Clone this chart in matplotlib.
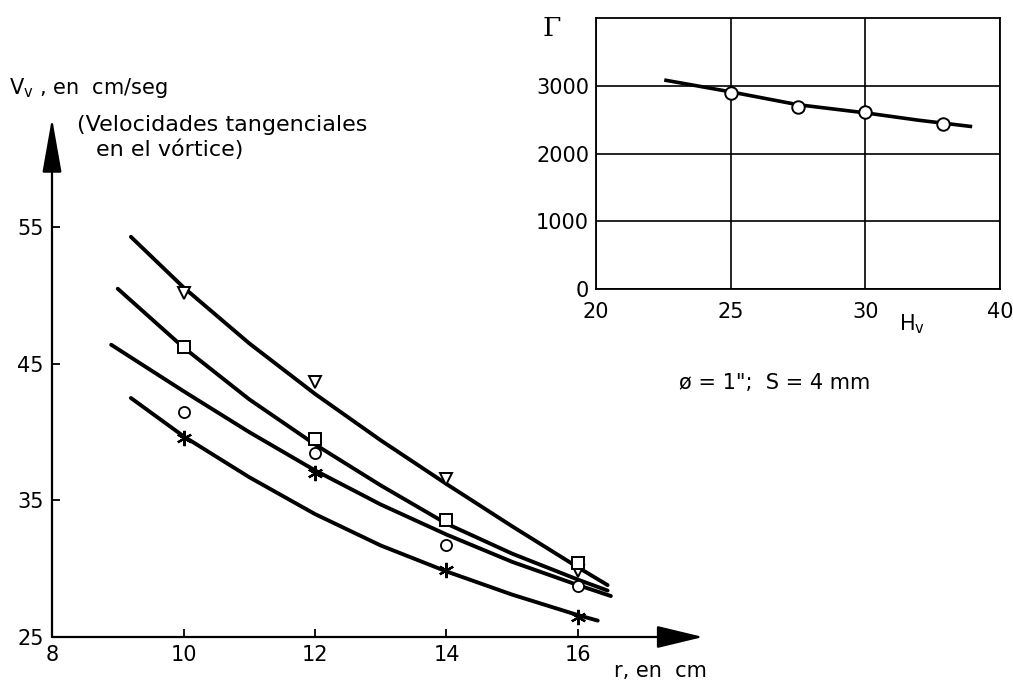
import matplotlib
matplotlib.use("Agg")
import matplotlib.pyplot as plt

plt.rcParams.update({
    "font.family": "DejaVu Sans",
    "font.size": 15,
    "mathtext.fontset": "dejavusans",
})

# ---- main chart: tangential velocity vs radius ----
r_pts = [10, 12, 14, 16]
v_tri = [50.2, 43.7, 36.6, 29.8]
v_sq = [46.2, 39.5, 33.6, 30.4]
v_circ = [41.5, 38.5, 31.7, 28.7]
v_star = [39.6, 37.0, 29.9, 26.5]

# hand-drawn curves
c1_r = [9.2, 10, 11, 12, 13, 14, 15, 16, 16.45]
c1_v = [54.3, 50.6, 46.5, 42.8, 39.4, 36.2, 33.1, 30.1, 28.8]
c2_r = [9.0, 10, 11, 12, 13, 14, 15, 16, 16.45]
c2_v = [50.5, 46.2, 42.4, 39.1, 36.1, 33.3, 31.1, 29.2, 28.4]
c3_r = [8.9, 10, 11, 12, 13, 14, 15, 16, 16.5]
c3_v = [46.4, 43.0, 40.0, 37.2, 34.7, 32.5, 30.5, 28.8, 28.0]
c4_r = [9.2, 10, 11, 12, 13, 14, 15, 16, 16.3]
c4_v = [42.5, 39.7, 36.7, 34.0, 31.7, 29.8, 28.1, 26.6, 26.2]

x_ticks = [8, 10, 12, 14, 16]
y_ticks = [25, 35, 45, 55]

# ---- inset: circulation vs H_v ----
h_pts = [25.0, 27.5, 30.0, 32.9]
g_pts = [2900, 2690, 2610, 2430]
h_line = [22.6, 25, 27.5, 30, 32, 33.9]
g_line = [3080, 2910, 2720, 2600, 2490, 2400]
h_ticks = [20, 25, 30, 35]
h_labels = ["20", "25", "30", "40"]
g_ticks = [0, 1000, 2000, 3000]

fig = plt.figure(figsize=(10.13, 6.88), dpi=100)
W, H = 1013, 688

ax = fig.add_axes([52 / W, 1 - 637 / H, 651 / W, 519 / H])
ax.set_xlim(8, 8 + 651 / 65.75)
ax.set_ylim(25, 63)
for s in ax.spines.values():
    s.set_visible(False)

# axis arrows
ax.annotate("", xy=(0, 1), xytext=(0, 0), xycoords="axes fraction",
            arrowprops=dict(arrowstyle="-|>,head_length=3.4,head_width=0.6",
                            mutation_scale=10, color="k", lw=1.6,
                            shrinkA=0, shrinkB=0))
ax.annotate("", xy=(1, 0), xytext=(0, 0), xycoords="axes fraction",
            arrowprops=dict(arrowstyle="-|>,head_length=2.9,head_width=0.7",
                            mutation_scale=10, color="k", lw=1.6,
                            shrinkA=0, shrinkB=0))

lw = 2.8
for cr, cv in [(c1_r, c1_v), (c2_r, c2_v), (c3_r, c3_v), (c4_r, c4_v)]:
    ax.plot(cr, cv, color="k", lw=lw, solid_capstyle="round",
            solid_joinstyle="round", zorder=2)

mk = dict(ls="none", mfc="white", mec="k", zorder=3)
ax.plot(r_pts, v_tri, marker="v", ms=9, mew=1.4, **mk)
ax.plot(r_pts, v_sq, marker="s", ms=9, mew=1.4, **mk)
ax.plot(r_pts, v_circ, marker="o", ms=8, mew=1.3, **mk)
ax.plot(r_pts, v_star, marker=(6, 2, 0), ms=11, mew=1.6, color="k",
        ls="none", zorder=3)

ax.set_xticks(x_ticks)
ax.set_yticks(y_ticks)
ax.tick_params(direction="in", length=6, width=1.3, labelsize=15)
ax.tick_params(axis="x", pad=6)
ax.tick_params(axis="y", pad=6)

ax.text((660 - 52) / 651, -34 / 519, "r, en  cm", transform=ax.transAxes,
        ha="center", va="center", fontsize=15)

fig.text(9 / W, 1 - 88 / H, "V$_\\mathrm{v}$ , en  cm/seg", ha="left",
         va="center", fontsize=15)
fig.text(77 / W, 1 - 125 / H, "(Velocidades tangenciales", ha="left",
         va="center", fontsize=16)
fig.text(96 / W, 1 - 150 / H, "en el vórtice)", ha="left", va="center",
         fontsize=16)

# ---- inset ----
axi = fig.add_axes([596 / W, 1 - 289 / H, 404 / W, 271 / H])
axi.set_xlim(20, 35)
axi.set_ylim(0, 4000)
axi.set_xticks(h_ticks, h_labels)
axi.set_yticks(g_ticks)
axi.grid(True, color="k", lw=1.2)
axi.tick_params(length=0, labelsize=15, pad=5)
axi.tick_params(axis="x", pad=9)
for s in axi.spines.values():
    s.set_linewidth(1.3)
axi.plot(h_line, g_line, color="k", lw=2.6, zorder=3)
axi.plot(h_pts, g_pts, ls="none", marker="o", ms=9, mfc="white", mec="k",
         mew=1.4, zorder=4)

fig.text(552 / W, 1 - 28 / H, "Γ", family="DejaVu Serif", fontsize=19,
         ha="center", va="center")
fig.text(912 / W, 1 - 324 / H, "H$_\\mathrm{v}$", fontsize=15,
         ha="center", va="center")
fig.text(775 / W, 1 - 383 / H, "ø = 1\";  S = 4 mm", fontsize=15,
         ha="center", va="center")

fig.savefig("out.png", dpi=100, facecolor="white")
